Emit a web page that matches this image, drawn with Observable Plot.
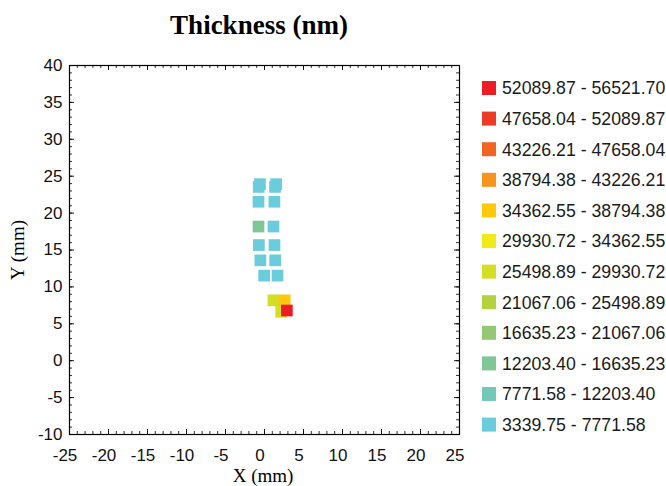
<!DOCTYPE html>
<html><head><meta charset="utf-8">
<script src="https://cdn.jsdelivr.net/npm/d3@7"></script>
<script src="https://cdn.jsdelivr.net/npm/@observablehq/plot@0.6"></script>
<style>
body{margin:0;background:#fff}
#chart{position:relative;width:666px;height:486px}
</style>
</head><body><div id="chart"></div>
<script>
// Cell centres (mm) and thickness (nm)
const xPos = [-0.58, -0.74, 1.50, 1.35, -0.77, 1.27, -0.77, 1.15, -0.72, 1.28, -0.53, 1.37, -0.04, 1.67, 1.14, 2.59, 2.14, 2.87];
const yPos = [23.92, 23.55, 23.92, 23.55, 21.54, 21.54, 18.18, 18.18, 15.67, 15.67, 13.60, 13.60, 11.53, 11.53, 8.18, 8.18, 6.63, 6.80];
const thickness = [5100, 4800, 5300, 4900, 5600, 4700, 14200, 6100, 5000, 5400, 4400, 5800, 3339.75, 4600, 27500, 36900, 26800, 56521.70];

// Legend bins (ascending)
const binLows  = [3339.75, 7771.58, 12203.40, 16635.23, 21067.06, 25498.89, 29930.72, 34362.55, 38794.38, 43226.21, 47658.04, 52089.87];
const binHighs = [7771.58, 12203.40, 16635.23, 21067.06, 25498.89, 29930.72, 34362.55, 38794.38, 43226.21, 47658.04, 52089.87, 56521.70];
const binColors = ["#6bccdc", "#74c8b9", "#80c797", "#95c874", "#b4d23e", "#d3de24", "#f2e918", "#fec90b", "#f7941e", "#f26423", "#ee3b26", "#ed1c24"];

const xTicks = [-25, -20, -15, -10, -5, 0, 5, 10, 15, 20, 25];
const yTicks = [-10, -5, 0, 5, 10, 15, 20, 25, 30, 35, 40];
const xMinor = d3.range(-25, 26, 1);
const yMinor = d3.range(-10, 41, 1);

const titleText = "Thickness (nm)";
const xLabel = "X (mm)";
const yLabel = "Y (mm)";

const cells = xPos.map((x, i) => ({x, y: yPos[i], t: thickness[i]}));

const W = 666, H = 486;
const mL = 69, mR = 207, mT = 65, mB = 52;
const innerW = W - mL - mR, innerH = H - mT - mB;

const chart = Plot.plot({
  width: W, height: H,
  marginLeft: mL, marginRight: mR, marginTop: mT, marginBottom: mB,
  style: {fontFamily: "'Liberation Sans', Arial, sans-serif", fontSize: "17px", color: "#111", background: "#fff"},
  x: {domain: [-25, 25], axis: null},
  y: {domain: [-10, 40], axis: null},
  color: {type: "threshold", domain: binLows.slice(1), range: binColors},
  marks: [
    Plot.dot(cells, {x: "x", y: "y", fill: "t", symbol: "square", r: 6.6}),
    // inward ticks on all four sides
    Plot.tickX(xMinor, {x: d => d, insetTop: innerH - 3, stroke: "#000", strokeWidth: 0.8}),
    Plot.tickX(xTicks, {x: d => d, insetTop: innerH - 5, stroke: "#000", strokeWidth: 0.9}),
    Plot.tickX(xMinor, {x: d => d, insetBottom: innerH - 3, stroke: "#000", strokeWidth: 0.8}),
    Plot.tickX(xTicks, {x: d => d, insetBottom: innerH - 5, stroke: "#000", strokeWidth: 0.9}),
    Plot.tickY(yMinor, {y: d => d, insetRight: innerW - 3, stroke: "#000", strokeWidth: 0.8}),
    Plot.tickY(yTicks, {y: d => d, insetRight: innerW - 5, stroke: "#000", strokeWidth: 0.9}),
    Plot.tickY(yMinor, {y: d => d, insetLeft: innerW - 3, stroke: "#000", strokeWidth: 0.8}),
    Plot.tickY(yTicks, {y: d => d, insetLeft: innerW - 5, stroke: "#000", strokeWidth: 0.9}),
    Plot.axisX(xTicks, {anchor: "bottom", tickSize: 0, tickPadding: 14, dx: -4.5, fontSize: 17, label: null, tickFormat: d => String(d)}),
    Plot.axisY(yTicks, {anchor: "left", tickSize: 0, tickPadding: 7, fontSize: 17, label: null, tickFormat: d => String(d)}),
    Plot.frame({stroke: "#000", strokeWidth: 1.2})
  ]
});

document.getElementById("chart").appendChild(chart);

const svg = d3.select(chart);
const serif = "'Liberation Serif', 'Times New Roman', serif";

svg.append("text")
  .attr("x", 259).attr("y", 34)
  .attr("text-anchor", "middle")
  .style("font-family", serif).style("font-weight", "bold").style("font-size", "27px")
  .attr("fill", "#000")
  .text(titleText);

svg.append("text")
  .attr("x", 263).attr("y", 482)
  .attr("text-anchor", "middle")
  .style("font-family", serif).style("font-size", "19px")
  .attr("fill", "#000")
  .text(xLabel);

svg.append("text")
  .attr("transform", "translate(24,250) rotate(-90)")
  .attr("text-anchor", "middle")
  .style("font-family", serif).style("font-size", "19px")
  .attr("fill", "#000")
  .text(yLabel);

// Legend (highest bin at top)
const order = d3.range(binLows.length).reverse();
const leg = svg.append("g").attr("text-anchor", "start");
order.forEach((bi, row) => {
  const cy = 88 + row * 30.6;
  leg.append("rect")
    .attr("x", 482).attr("y", cy - 7).attr("width", 14).attr("height", 14)
    .attr("fill", binColors[bi]);
  leg.append("text")
    .attr("x", 502).attr("y", cy).attr("dy", "0.36em")
    .attr("text-anchor", "start")
    .style("font-family", "'Liberation Sans', Arial, sans-serif").style("font-size", "17.7px")
    .attr("fill", "#1a1a1a")
    .text(`${binLows[bi].toFixed(2)} - ${binHighs[bi].toFixed(2)}`);
});
</script>
</body></html>
